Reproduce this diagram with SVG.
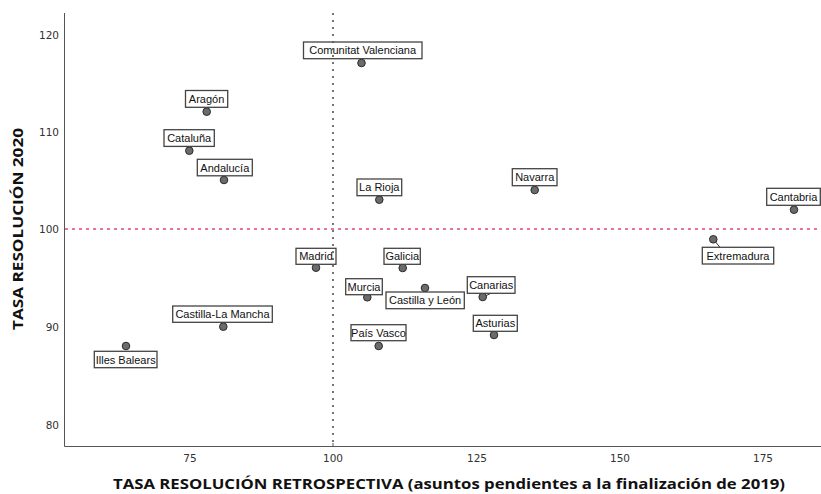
<svg xmlns="http://www.w3.org/2000/svg" width="821" height="494" viewBox="0 0 821 494">
<style>
.bg{fill:#fff}
.axis{stroke:#555;stroke-width:1;fill:none}
.tick{font-family:"DejaVu Sans",sans-serif;font-size:10.5px;fill:#333}
.title{font-family:"Open Sans","DejaVu Sans",sans-serif;font-size:14px;font-weight:bold;fill:#111}
.dot{fill:#6b6b6b;stroke:#2a2a2a;stroke-width:1}
.box{fill:#fff;stroke:#444;stroke-width:1.3}
.lbl{font-family:"Liberation Sans",Arial,sans-serif;font-size:11px;fill:#111;text-anchor:middle}
.lead{stroke:#333;stroke-width:1;fill:none}
.vref{stroke:#555;stroke-width:1.6;stroke-dasharray:2,5;fill:none}
.href{stroke:#e0457a;stroke-width:1.4;stroke-dasharray:3,4;fill:none}
</style>
<rect class="bg" x="0" y="0" width="821" height="494"/>
<g id="axes">
<path class="axis" d="M64.5 13V446.5H821"/>
<path class="axis" d="M333 446.5V443"/>
<g class="tick" text-anchor="end">
<text x="59" y="39">120</text>
<text x="59" y="136">110</text>
<text x="59" y="233">100</text>
<text x="59" y="331">90</text>
<text x="59" y="429">80</text>
</g>
<g class="tick" text-anchor="middle">
<text x="190" y="462">75</text>
<text x="333" y="462">100</text>
<text x="477" y="462">125</text>
<text x="620" y="462">150</text>
<text x="763" y="462">175</text>
</g>
<text class="title" x="449" y="489" text-anchor="middle" textLength="672" lengthAdjust="spacingAndGlyphs">TASA RESOLUCIÓN RETROSPECTIVA (asuntos pendientes a la finalización de 2019)</text>
<text class="title" transform="translate(23 229) rotate(-90)" text-anchor="middle" textLength="202" lengthAdjust="spacingAndGlyphs">TASA RESOLUCIÓN 2020</text>
</g>
<g id="connectors">
<line class="lead" x1="713.3" y1="239.3" x2="720" y2="247.3"/>
<line class="lead" x1="483" y1="297" x2="491" y2="293.3"/>
</g>
<g id="comunitat-valenciana"><circle class="dot" cx="361.5" cy="63" r="3.8"/><rect class="box" x="303.5" y="42" width="118.5" height="16.7"/><text class="lbl" x="362.7" y="54.3">Comunitat Valenciana</text></g>
<g id="aragon"><circle class="dot" cx="206.7" cy="111.7" r="3.8"/><rect class="box" x="185.5" y="90.5" width="42.2" height="16.8"/><text class="lbl" x="206.6" y="102.8">Aragón</text></g>
<g id="cataluna"><circle class="dot" cx="189.3" cy="150.7" r="3.8"/><rect class="box" x="164" y="129.7" width="50.3" height="16.7"/><text class="lbl" x="189.2" y="142">Cataluña</text></g>
<g id="andalucia"><circle class="dot" cx="224" cy="180" r="3.8"/><rect class="box" x="197.3" y="159.3" width="55" height="16.5"/><text class="lbl" x="224.8" y="171.6">Andalucía</text></g>
<g id="la-rioja"><circle class="dot" cx="379.3" cy="199.7" r="3.8"/><rect class="box" x="357" y="179" width="44.7" height="16.7"/><text class="lbl" x="379.3" y="191.3">La Rioja</text></g>
<g id="navarra"><circle class="dot" cx="534.7" cy="190" r="3.8"/><rect class="box" x="512.3" y="168.7" width="44.7" height="17"/><text class="lbl" x="534.7" y="181">Navarra</text></g>
<g id="cantabria"><circle class="dot" cx="794" cy="209.7" r="3.8"/><rect class="box" x="766.7" y="188.3" width="53.6" height="17"/><text class="lbl" x="793.5" y="200.6">Cantabria</text></g>
<g id="extremadura"><circle class="dot" cx="713.3" cy="239.3" r="3.8"/><rect class="box" x="702.3" y="247.3" width="71.4" height="16.7"/><text class="lbl" x="738" y="259.6">Extremadura</text></g>
<g id="madrid"><circle class="dot" cx="316" cy="267.7" r="3.8"/><rect class="box" x="296" y="248.3" width="40" height="16"/><text class="lbl" x="316" y="260.3">Madrid</text></g>
<g id="galicia"><circle class="dot" cx="402.7" cy="268" r="3.8"/><rect class="box" x="384" y="248.3" width="36.3" height="16"/><text class="lbl" x="402.2" y="260.3">Galicia</text></g>
<g id="murcia"><circle class="dot" cx="367.3" cy="297.3" r="3.8"/><rect class="box" x="345.7" y="278.7" width="36.6" height="16"/><text class="lbl" x="364" y="290.8">Murcia</text></g>
<g id="castilla-y-leon"><circle class="dot" cx="425" cy="288" r="3.8"/><rect class="box" x="386" y="292" width="78.3" height="16.7"/><text class="lbl" x="425.1" y="304.3">Castilla y León</text></g>
<g id="pais-vasco"><circle class="dot" cx="378.7" cy="346" r="3.8"/><rect class="box" x="351" y="324.7" width="55" height="16"/><text class="lbl" x="378.5" y="336.8">País Vasco</text></g>
<g id="canarias"><circle class="dot" cx="482.7" cy="297" r="3.8"/><rect class="box" x="467.3" y="276.7" width="47.7" height="16.6"/><text class="lbl" x="491.2" y="288.9">Canarias</text></g>
<g id="asturias"><circle class="dot" cx="494" cy="335" r="3.8"/><rect class="box" x="473.3" y="315.3" width="44" height="16"/><text class="lbl" x="495.3" y="327.4">Asturias</text></g>
<g id="castilla-la-mancha"><circle class="dot" cx="223.3" cy="326.7" r="3.8"/><rect class="box" x="172.7" y="306" width="99.6" height="16.3"/><text class="lbl" x="222.5" y="318.2">Castilla-La Mancha</text></g>
<g id="illes-balears"><circle class="dot" cx="126" cy="346" r="3.8"/><rect class="box" x="94.3" y="351.3" width="62.7" height="16.4"/><text class="lbl" x="125.7" y="363.6">Illes Balears</text></g>
<g id="reference-lines">
<line class="vref" x1="333" y1="13" x2="333" y2="446"/>
<line class="href" x1="65" y1="229" x2="821" y2="229"/>
</g>
</svg>
